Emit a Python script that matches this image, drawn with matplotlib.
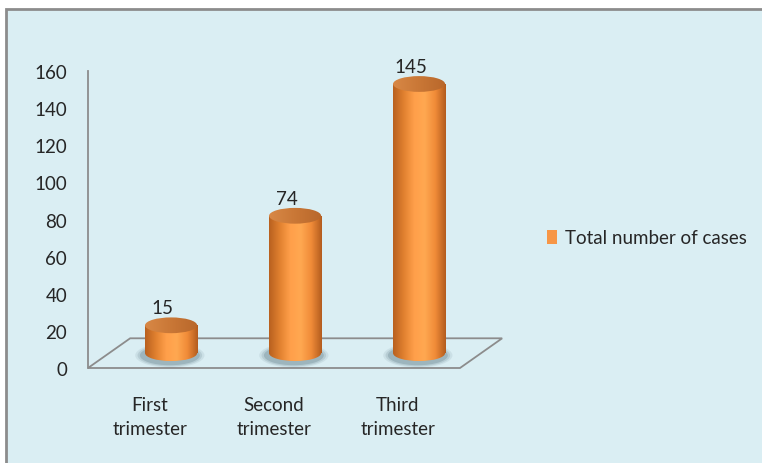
import numpy as np
import matplotlib.pyplot as plt
from matplotlib.patches import Ellipse, Rectangle, Polygon, Patch
from matplotlib.colors import LinearSegmentedColormap

categories = ['First\ntrimester', 'Second\ntrimester', 'Third\ntrimester']
cases = [15, 74, 145]
series_name = 'Total number of cases'
yticks = [0, 20, 40, 60, 80, 100, 120, 140, 160]

plt.rcParams['font.family'] = ['Lato', 'DejaVu Sans']
txt = '#262626'
fs = 13.5

fig = plt.figure(figsize=(7.62, 4.64), dpi=100)
fig.patch.set_facecolor('white')
# chart area panel with grey border (top + left visible)
fig.patches.append(Rectangle((6 / 762, -0.05), 1.1, 1.05 - 10 / 464,
                             transform=fig.transFigure, facecolor='#DAEEF3',
                             edgecolor='#8C8C8C', lw=2, zorder=-5))

ax = fig.add_axes([88 / 762, 95 / 464, 434 / 762, 297 / 464])
ax.set_zorder(3)
ax.set_facecolor('none')

# 3d depth of the floor, in data units
dx = 0.34
dy = 16.0
w = 0.42
eh = 8.5

floor = Polygon([(-0.5, 0), (2.5, 0), (2.5 + dx, dy), (-0.5 + dx, dy)],
                closed=True, facecolor='none', edgecolor='#8C8C8C', lw=1.3,
                zorder=1, clip_on=False)
ax.add_patch(floor)

cmap = LinearSegmentedColormap.from_list('cyl', ['#B8601F', '#E0802F', '#FF9F4A',
                                                  '#FFA851', '#F08B38', '#B35C1E'])
cmap_top = LinearSegmentedColormap.from_list('top', ['#D88846', '#C97736', '#B8672B'])
grad = np.linspace(0, 1, 256).reshape(1, -1)

for i, v in enumerate(cases):
    xb = i + dx / 2
    yb = dy / 2
    # soft shadow under the cylinder
    for k, a in [(1.55, 0.10), (1.4, 0.16), (1.25, 0.25)]:
        ax.add_patch(Ellipse((xb - 0.01, yb - 1.2), w * (1 + (k - 1) * 0.6), eh * k,
                             facecolor='#506E7A', edgecolor='none', alpha=a, zorder=2))
    body = Rectangle((xb - w / 2, yb), w, v, facecolor='none', edgecolor='none')
    bottom = Ellipse((xb, yb), w, eh, facecolor='none', edgecolor='none')
    top = Ellipse((xb, yb + v), w, eh, facecolor='none', edgecolor='none')
    for p in (body, bottom, top):
        ax.add_patch(p)
    for clip in (body, bottom):
        im = ax.imshow(grad, extent=(xb - w / 2, xb + w / 2, yb - eh, yb + v),
                       cmap=cmap, aspect='auto', zorder=3, interpolation='bilinear')
        im.set_clip_path(clip)
    im = ax.imshow(grad, extent=(xb - w / 2, xb + w / 2, yb + v - eh, yb + v + eh),
                   cmap=cmap_top, aspect='auto', zorder=4, interpolation='bilinear')
    im.set_clip_path(top)
    ax.annotate(str(v), (xb - 0.07, yb + v + eh / 2), xytext=(0, 1),
                textcoords='offset points', ha='center', va='bottom',
                fontsize=fs, color=txt)

ax.set_xlim(-0.5, 3.0)
ax.set_ylim(0, 160)
ax.set_yticks(yticks)
ax.set_xticks(range(len(categories)))
ax.set_xticklabels(categories, fontsize=fs, color=txt, linespacing=1.55)
ax.tick_params(axis='y', length=0, pad=15, labelsize=fs, labelcolor=txt)
ax.tick_params(axis='x', length=0, pad=20)
for s in ['top', 'right', 'bottom']:
    ax.spines[s].set_visible(False)
ax.spines['left'].set_color('#8C8C8C')
ax.spines['left'].set_linewidth(1.3)

fig.legend(handles=[Patch(facecolor='#F79646', label=series_name)],
           loc='center left', bbox_to_anchor=(530 / 762, 1 - 239 / 464),
           frameon=False, fontsize=fs, handlelength=0.55, handleheight=0.75,
           handletextpad=0.4, labelcolor=txt)

fig.savefig('out.png', dpi=100)
